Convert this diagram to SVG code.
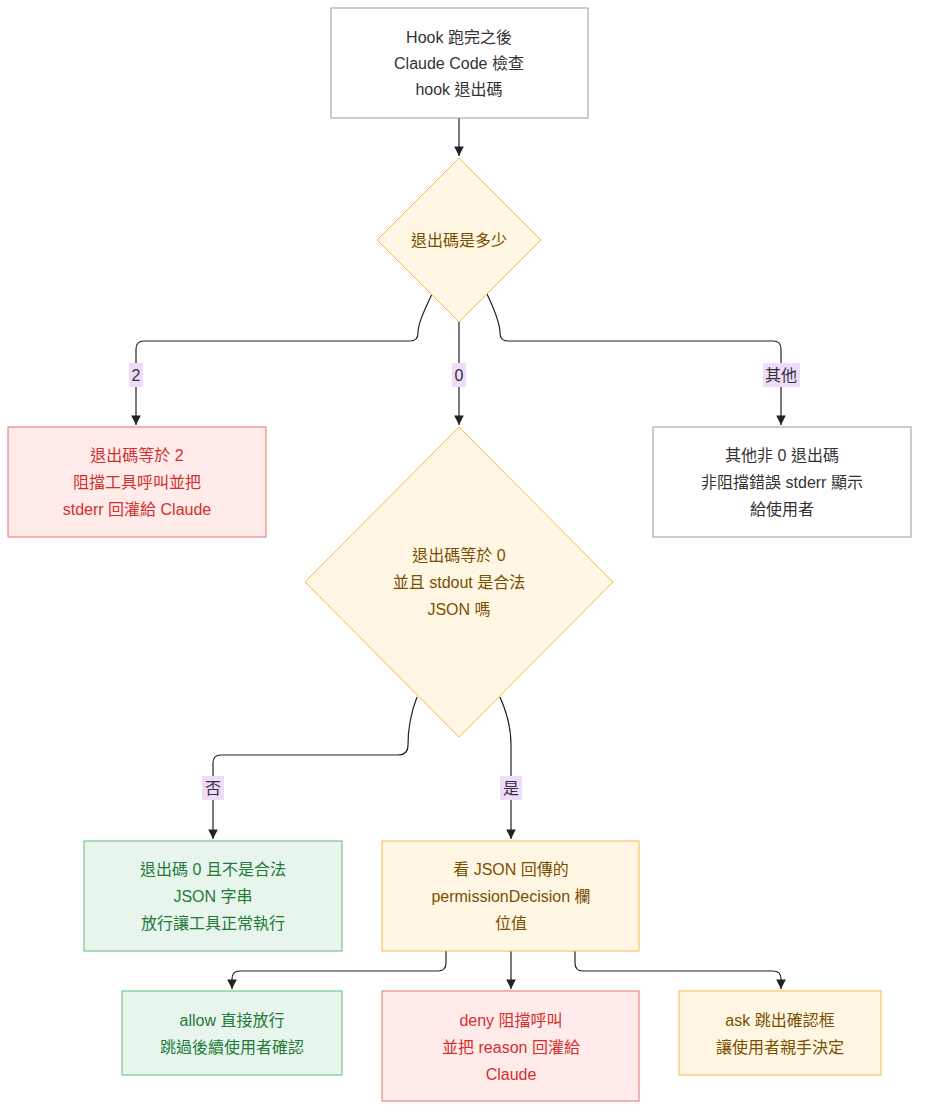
<svg xmlns="http://www.w3.org/2000/svg" width="927" height="1119" viewBox="0 0 927 1119">
<style>
text{font-family:"Liberation Sans","Noto Sans CJK TC",sans-serif;font-size:16px;text-anchor:middle}
.g rect{fill:#fff;stroke:#9a9a9a}
.g text{fill:#333}
.y rect,.y polygon{fill:#fff6e4;stroke:#f7b84b}
.y text{fill:#7a4f00}
.r rect{fill:#ffebea;stroke:#e57373}
.r text{fill:#d32f2f}
.n rect{fill:#e8f5ec;stroke:#5cbf7b}
.n text{fill:#237a3b}
.e path{fill:none;stroke:#222;stroke-width:1.2;marker-end:url(#a)}
.l rect{fill:#efdcfb}
.l text{fill:#333}
</style>
<defs><marker id="a" viewBox="0 0 10 10" refX="10" refY="5" markerWidth="8" markerHeight="8" orient="auto"><path d="M0,0L10,5L0,10z" fill="#222"/></marker></defs>
<g class="e">
<path d="M459,118V156"/>
<path d="M432,294C422,315 418,325 418,333Q418,341 410,341H144Q136,341 136,349V425"/>
<path d="M459,322V425"/>
<path d="M487,294C497,315 500,325 500,333Q500,341 508,341H773Q781,341 781,349V425"/>
<path d="M417,697C410,715 408,730 408,745Q408,755 398,755H221Q213,755 213,763V839"/>
<path d="M500,697C508,715 511,730 511,745V839"/>
<path d="M446,951V963Q446,971 438,971H240Q232,971 232,979V989"/>
<path d="M511,951V989"/>
<path d="M575,951V963Q575,971 583,971H773Q781,971 781,979V989"/>
</g>
<g class="l">
<rect x="129" y="363" width="14" height="24"/><text x="136" y="381">2</text>
<rect x="452" y="363" width="14" height="24"/><text x="459" y="381">0</text>
<rect x="763" y="363" width="37" height="24"/><text x="781" y="381">其他</text>
<rect x="202" y="776" width="22" height="24"/><text x="213" y="794">否</text>
<rect x="500" y="776" width="22" height="24"/><text x="511" y="794">是</text>
</g>
<g id="start" class="g"><rect x="331" y="8" width="257" height="110"/><text x="459" y="43">Hook 跑完之後</text><text x="459" y="69">Claude Code 檢查</text><text x="459" y="95">hook 退出碼</text></g>
<g id="d1" class="y"><polygon points="459,158 541,240 459,322 377,240"/><text x="459" y="246">退出碼是多少</text></g>
<g id="block" class="r"><rect x="8" y="427" width="258" height="110"/><text x="137" y="461">退出碼等於 2</text><text x="137" y="488">阻擋工具呼叫並把</text><text x="137" y="515">stderr 回灌給 Claude</text></g>
<g id="other" class="g"><rect x="653" y="427" width="258" height="110"/><text x="782" y="461">其他非 0 退出碼</text><text x="782" y="488">非阻擋錯誤 stderr 顯示</text><text x="782" y="515">給使用者</text></g>
<g id="d2" class="y"><polygon points="459,427 613,582 459,737 305,582"/><text x="459" y="561">退出碼等於 0</text><text x="459" y="588">並且 stdout 是合法</text><text x="459" y="615">JSON 嗎</text></g>
<g id="pass" class="n"><rect x="84" y="841" width="258" height="110"/><text x="213" y="875">退出碼 0 且不是合法</text><text x="213" y="902">JSON 字串</text><text x="213" y="929">放行讓工具正常執行</text></g>
<g id="json" class="y"><rect x="382" y="841" width="257" height="110"/><text x="511" y="875">看 JSON 回傳的</text><text x="511" y="902">permissionDecision 欄</text><text x="511" y="929">位值</text></g>
<g id="allow" class="n"><rect x="122" y="991" width="220" height="84"/><text x="232" y="1026">allow 直接放行</text><text x="232" y="1053">跳過後續使用者確認</text></g>
<g id="deny" class="r"><rect x="382" y="991" width="257" height="110"/><text x="511" y="1026">deny 阻擋呼叫</text><text x="511" y="1053">並把 reason 回灌給</text><text x="511" y="1080">Claude</text></g>
<g id="ask" class="y"><rect x="679" y="991" width="202" height="84"/><text x="780" y="1026">ask 跳出確認框</text><text x="780" y="1053">讓使用者親手決定</text></g>
</svg>
